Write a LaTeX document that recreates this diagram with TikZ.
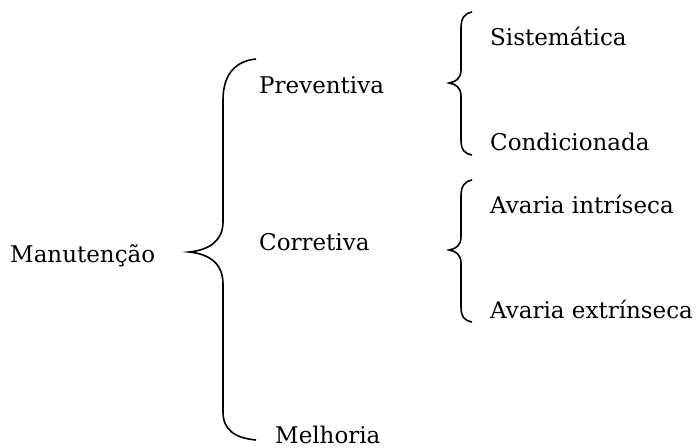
\documentclass[tikz,border=0pt]{standalone}
\usepackage{fontspec}
\setmainfont{DejaVu Serif}
\begin{document}
\begin{tikzpicture}[x=1pt,y=-1pt,
    every node/.append style={inner sep=0pt,anchor=base west,
      font=\fontsize{23}{27}\selectfont},
    chave/.style={line width=1.6pt}]
    \useasboundingbox (0,0) rectangle (698,447);

    \node (manut) at (10,262.5) {Manutenção};

    \node (prev) at (259,93.5) {Preventiva};
    \node (corr) at (259,250) {Corretiva};
    \node (melh) at (275,443) {Melhoria};

    \node (sist) at (490,45.5) {Sistemática};
    \node (cond) at (490,150) {Condicionada};
    \node (intr) at (490,213.5) {Avaria intríseca};
    \node (extr) at (490,318.5) {Avaria extrínseca};

    % chave grande
    \draw[chave] (256,59) .. controls (235,61) and (223,75) .. (223,100)
        -- (223,222) .. controls (223,240) and (210,250) .. (189,252)
        .. controls (210,254) and (223,264) .. (223,284)
        -- (223,412) .. controls (223,430) and (235,438) .. (256,440);

    % chaves pequenas
    \draw[chave] (472,12) .. controls (465,13) and (461,18) .. (461,28)
        -- (461,70) .. controls (461,78) and (456,82) .. (449,83)
        .. controls (456,84) and (461,88) .. (461,96)
        -- (461,140) .. controls (461,150) and (465,154) .. (472,155);
    \draw[chave] (472,180) .. controls (465,181) and (461,186) .. (461,196)
        -- (461,237) .. controls (461,245) and (456,249) .. (449,250)
        .. controls (456,251) and (461,255) .. (461,263)
        -- (461,307) .. controls (461,317) and (465,321) .. (472,322);
\end{tikzpicture}
\end{document}
